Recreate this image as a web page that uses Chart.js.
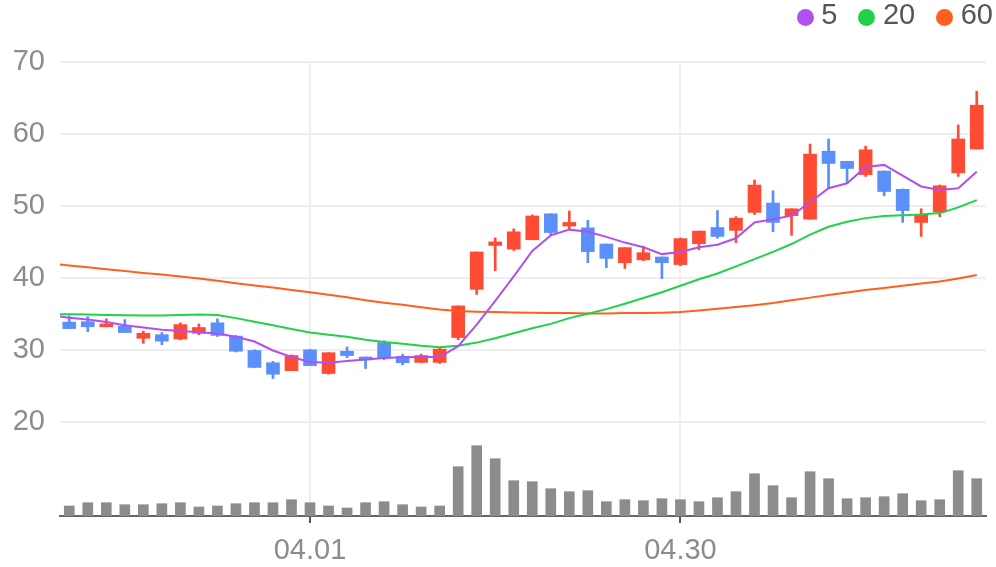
<!DOCTYPE html>
<html>
<head>
<meta charset="utf-8">
<script src="https://cdn.jsdelivr.net/npm/chart.js@4.4.1/dist/chart.umd.min.js"></script>
<style>
  html, body { margin: 0; padding: 0; background: #fff; }
  #wrap { position: relative; width: 996px; height: 567px; }
  #legend {
    position: absolute; top: 0; right: 3px; display: flex; gap: 21px;
    font: 29px/29px "Liberation Sans", Arial, sans-serif; color: #555;
  }
  .item { display: flex; align-items: flex-start; }
  .dot { width: 17px; height: 17px; border-radius: 50%; margin-top: 8.5px; margin-right: 7.5px; }
</style>
</head>
<body>
<div id="wrap">
  <canvas id="chart"></canvas>
  <div id="legend"></div>
</div>
<script>
// trading days shown on the chart
const dates = [
  "03.13", "03.14", "03.15", "03.18", "03.19", "03.20", "03.21", "03.22", "03.25", "03.26",
  "03.27", "03.28", "03.29", "04.01", "04.02", "04.03", "04.04", "04.08", "04.09", "04.10",
  "04.11", "04.12", "04.15", "04.16", "04.17", "04.18", "04.19", "04.22", "04.23", "04.24",
  "04.25", "04.26", "04.29", "04.30", "05.06", "05.07", "05.08", "05.09", "05.10", "05.13",
  "05.14", "05.15", "05.16", "05.17", "05.20", "05.21", "05.22", "05.23", "05.24", "05.27"
];

const open = [
  33.85, 33.9, 33.2, 33.3, 31.6, 32.1, 31.5, 32.3, 33.75, 31.9,
  29.9, 28.2, 27.1, 30.0, 26.7, 29.8, 29.0, 31.0, 29.1, 28.25,
  28.25, 31.7, 38.4, 44.5, 44.0, 45.3, 48.9, 47.2, 46.95, 44.7,
  42.1, 42.5, 42.9, 41.85, 44.75, 47.0, 46.6, 49.1, 50.4, 48.65,
  48.15, 57.6, 56.2, 54.35, 54.85, 52.3, 47.7, 49.15, 54.6, 57.9
];
const high = [
  34.7, 34.6, 34.3, 34.2, 32.6, 32.4, 33.75, 33.6, 34.3, 32.0,
  30.0, 28.4, 29.3, 30.05, 29.6, 30.4, 29.0, 31.25, 29.4, 29.4,
  30.2, 36.1, 43.6, 45.55, 46.8, 48.75, 48.9, 49.3, 48.0, 44.7,
  44.2, 44.4, 42.9, 45.55, 46.5, 49.35, 48.5, 53.6, 52.1, 49.6,
  58.6, 59.3, 56.2, 58.3, 54.85, 52.35, 49.6, 52.9, 61.25, 65.95
];
const low = [
  32.95, 32.5, 33.2, 32.4, 30.9, 30.7, 31.4, 32.1, 31.85, 29.7,
  27.5, 26.0, 27.1, 27.8, 26.6, 28.9, 27.4, 28.6, 27.9, 28.2,
  28.1, 31.4, 37.7, 41.0, 43.8, 45.3, 45.9, 46.7, 42.1, 41.4,
  41.3, 42.4, 39.9, 41.7, 43.9, 45.5, 44.9, 48.8, 46.4, 45.9,
  48.15, 52.5, 53.15, 54.1, 51.4, 47.7, 45.75, 48.5, 54.1, 57.9
];
const close = [
  32.95, 33.2, 33.6, 32.4, 32.3, 31.2, 33.5, 33.1, 32.0, 29.8,
  27.55, 26.6, 29.2, 27.8, 29.6, 29.2, 28.6, 28.85, 28.2, 29.2,
  30.1, 36.1, 43.6, 45.0, 46.4, 48.6, 46.3, 47.7, 43.65, 42.7,
  44.2, 43.5, 42.1, 45.45, 46.5, 45.75, 48.3, 52.9, 47.7, 49.6,
  57.2, 55.9, 55.2, 57.8, 52.0, 49.35, 48.75, 52.8, 59.3, 64.0
];
const volume = [
  1000, 1330, 1330, 1130, 1130, 1230, 1330, 900, 1000, 1230,
  1330, 1330, 1630, 1330, 1000, 800, 1330, 1430, 1130, 900,
  1000, 4930, 7030, 5730, 3530, 3430, 2730, 2430, 2530, 1430,
  1630, 1530, 1730, 1630, 1430, 1830, 2430, 4230, 3030, 1830,
  4430, 3730, 1730, 1830, 1930, 2230, 1530, 1630, 4530, 3730
];

// moving averages: first value belongs to the trading day before 03.13
const ma5 = [
  34.8, 34.45, 34.2, 33.85, 33.4, 33.1, 32.8, 32.6, 32.45, 32.25, 31.8,
  31.15, 29.9, 29.0, 28.3, 28.2, 28.45, 28.65, 28.85, 28.95, 29.0,
  29.0, 30.5, 33.5, 36.8, 40.2, 43.75, 45.9, 46.7, 46.4, 45.7,
  44.9, 44.25, 43.3, 43.6, 44.25, 44.6, 45.5, 47.7, 48.15, 48.65,
  50.5, 52.45, 53.15, 55.4, 55.7, 54.2, 52.7, 52.2, 52.45, 54.75
];
const ma20 = [
  34.95, 34.95, 34.9, 34.85, 34.8, 34.75, 34.75, 34.85, 34.9, 34.85, 34.4,
  33.9, 33.4, 32.9, 32.4, 32.1, 31.8, 31.4, 31.1, 30.85, 30.55,
  30.35, 30.55, 31.0, 31.6, 32.3, 33.0, 33.6, 34.4, 35.0, 35.65,
  36.4, 37.2, 38.0, 38.9, 39.8, 40.6, 41.6, 42.6, 43.6, 44.7,
  46.0, 47.1, 47.8, 48.3, 48.6, 48.7, 48.8, 49.0, 49.8, 50.8
];
const ma60 = [
  41.98, 41.72, 41.46, 41.2, 40.94, 40.68, 40.45, 40.2, 39.9, 39.6, 39.25,
  38.95, 38.65, 38.3, 38.0, 37.65, 37.3, 36.9, 36.55, 36.25, 35.9,
  35.6, 35.4, 35.3, 35.25, 35.2, 35.15, 35.1, 35.1, 35.05, 35.05,
  35.1, 35.1, 35.15, 35.25, 35.45, 35.7, 35.95, 36.2, 36.5, 36.9,
  37.25, 37.6, 37.95, 38.3, 38.6, 38.9, 39.2, 39.5, 39.9, 40.4
];

const priceTicks = [20, 30, 40, 50, 60, 70];
const dateTicks = ["04.01", "04.30"];

const UP = "#ff4b33";
const DOWN = "#5b8ff9";
const FONT = { family: '"Liberation Sans", Arial, sans-serif', size: 29 };

const maLines = [
  { label: "5", data: ma5, color: "#b150f0" },
  { label: "20", data: ma20, color: "#22d14a" },
  { label: "60", data: ma60, color: "#ff5f1f" },
];

const idx = dates.map((d, i) => i);
const candleColor = idx.map((i) => (close[i] >= open[i] ? UP : DOWN));

// --- Legend ---
document.getElementById("legend").innerHTML = maLines
  .map((m) => `<div class="item"><span class="dot" style="background:${m.color}"></span>${m.label}</div>`)
  .join("");

// --- Chart ---
new Chart(document.getElementById("chart"), {
  type: "bar",
  data: {
    datasets: [
      ...maLines.map((m) => ({
        type: "line",
        label: m.label,
        data: m.data.map((v, k) => ({ x: k - 1, y: v })),
        borderColor: m.color,
        backgroundColor: m.color,
        borderWidth: 2,
        pointRadius: 0,
        tension: 0,
        yAxisID: "y",
        clip: 0,
        order: 0,
      })),
      {
        label: "wick",
        data: idx.map((i) => ({ x: i, y: [low[i], high[i]] })),
        backgroundColor: candleColor,
        barThickness: 2,
        grouped: false,
        yAxisID: "y",
        order: 1,
      },
      {
        label: "body",
        data: idx.map((i) => ({ x: i, y: [open[i], close[i]] })),
        backgroundColor: candleColor,
        barThickness: 13,
        grouped: false,
        yAxisID: "y",
        order: 1,
      },
      {
        label: "volume",
        data: idx.map((i) => ({ x: i, y: volume[i] })),
        backgroundColor: "#8c8c8c",
        barThickness: 10,
        grouped: false,
        yAxisID: "yv",
        order: 2,
      },
    ],
  },
  options: {
    responsive: true,
    maintainAspectRatio: false,
    animation: false,
    events: [],
    layout: { padding: { top: 62, right: 10, bottom: 0, left: 0 } },
    plugins: { legend: { display: false }, tooltip: { enabled: false } },
    scales: {
      x: {
        type: "linear",
        min: -0.5,
        max: dates.length - 0.5,
        offset: false,
        afterBuildTicks: (s) => { s.ticks = dateTicks.map((d) => ({ value: dates.indexOf(d) })); },
        afterFit: (s) => { s.height = 51; },
        ticks: {
          callback: (v) => dates[v],
          color: "#8c8c8c",
          font: FONT,
          padding: 11,
          maxRotation: 0,
          autoSkip: false,
        },
        grid: { offset: false, color: "#eeeeee", lineWidth: 2, tickColor: "#555", tickLength: 7, tickWidth: 2 },
        border: { color: "#666", width: 2 },
      },
      y: {
        position: "left",
        min: 6.9,
        max: 70,
        afterBuildTicks: (s) => { s.ticks = priceTicks.map((v) => ({ value: v })); },
        afterFit: (s) => { s.width = 60; },
        ticks: { color: "#8c8c8c", font: FONT, padding: 15 },
        grid: { color: "#eeeeee", lineWidth: 2, drawTicks: false },
        border: { display: false },
      },
      yv: {
        display: false,
        min: 0,
        max: 45400,
      },
    },
  },
});
</script>
</body>
</html>
